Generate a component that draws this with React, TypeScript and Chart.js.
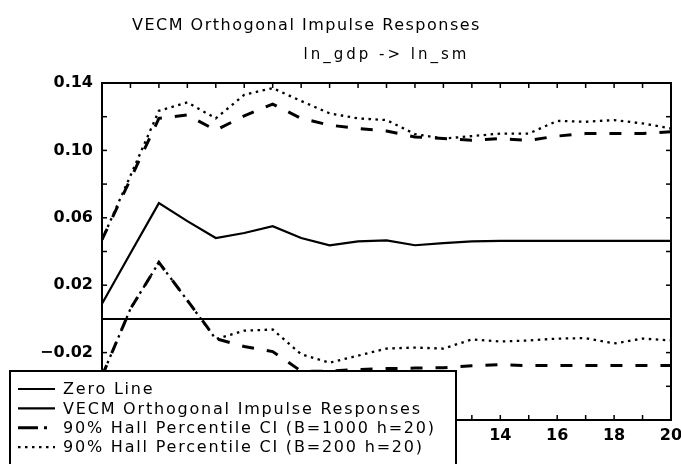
import React, { useEffect, useRef } from 'react';
import { Chart, registerables } from 'chart.js';

Chart.register(...registerables);

const horizons = ['0', '1', '2', '3', '4', '5', '6', '7', '8', '9', '10', '11', '12', '13', '14', '15', '16', '17', '18', '19', '20'];
const xTickLabels = ['0', '', '2', '', '4', '', '6', '', '8', '', '10', '', '12', '', '14', '', '16', '', '18', '', '20'];

const zeroLine = [0, 0, 0, 0, 0, 0, 0, 0, 0, 0, 0, 0, 0, 0, 0, 0, 0, 0, 0, 0, 0];
const irf = [0.009, 0.039, 0.0687, 0.058, 0.048, 0.051, 0.055, 0.048, 0.0437, 0.046, 0.0466, 0.0437, 0.045, 0.046, 0.0463, 0.0463, 0.0463, 0.0463, 0.0463, 0.0463, 0.0463];
const upperB1000 = [0.047, 0.083, 0.119, 0.121, 0.112, 0.1205, 0.1275, 0.119, 0.115, 0.113, 0.1115, 0.108, 0.107, 0.106, 0.107, 0.106, 0.1085, 0.11, 0.11, 0.11, 0.111];
const lowerB1000 = [-0.034, 0.006, 0.0335, 0.011, -0.0117, -0.0164, -0.0194, -0.031, -0.031, -0.03, -0.0295, -0.0292, -0.029, -0.0278, -0.0272, -0.0277, -0.0277, -0.0277, -0.0277, -0.0277, -0.0277];
const upperB200 = [0.047, 0.085, 0.1235, 0.1285, 0.119, 0.133, 0.137, 0.1293, 0.122, 0.119, 0.118, 0.1097, 0.107, 0.1085, 0.11, 0.11, 0.1175, 0.117, 0.118, 0.116, 0.113];
const lowerB200 = [-0.034, 0.006, 0.0335, 0.011, -0.012, -0.007, -0.0063, -0.021, -0.026, -0.0218, -0.0176, -0.017, -0.0176, -0.0122, -0.0134, -0.0128, -0.0117, -0.0114, -0.0146, -0.0117, -0.0128];

const yTickValues = [-0.06, -0.04, -0.02, 0, 0.02, 0.04, 0.06, 0.08, 0.1, 0.12, 0.14];
const yTickLabels = ['\u22120.06', '', '\u22120.02', '', '0.02', '', '0.06', '', '0.10', '', '0.14'];

const titleText = 'VECM Orthogonal Impulse Responses';
const subtitleText = 'ln_gdp -> ln_sm';
const labelZero = 'Zero Line';
const labelIrf = 'VECM Orthogonal Impulse Responses';
const label1000 = '90% Hall Percentile CI (B=1000 h=20)';
const label200 = '90% Hall Percentile CI (B=200 h=20)';

const FONT = '"DejaVu Sans", sans-serif';

const framePlugin = {
  id: 'frameAndLegend',
  afterDraw(chart: any) {
    const { ctx, chartArea: a, scales } = chart;
    ctx.save();
    ctx.strokeStyle = '#000';
    ctx.setLineDash([]);
    // frame
    ctx.lineWidth = 2;
    ctx.strokeRect(a.left, a.top, a.right - a.left, a.bottom - a.top);
    // inward ticks
    ctx.lineWidth = 1.5;
    const tl = 5;
    const seg = (x1: number, y1: number, x2: number, y2: number) => {
      ctx.beginPath();
      ctx.moveTo(x1, y1);
      ctx.lineTo(x2, y2);
      ctx.stroke();
    };
    horizons.forEach((_, i) => {
      const x = scales.x.getPixelForValue(i);
      seg(x, a.top, x, a.top + tl);
      seg(x, a.bottom, x, a.bottom - tl);
    });
    yTickValues.forEach((v) => {
      const y = scales.y.getPixelForValue(v);
      seg(a.left, y, a.left + tl, y);
      seg(a.right, y, a.right - tl, y);
    });
    // titles
    ctx.fillStyle = '#000';
    ctx.textBaseline = 'alphabetic';
    ctx.font = `16px ${FONT}`;
    (ctx as any).letterSpacing = '1.5px';
    ctx.textAlign = 'left';
    ctx.fillText(titleText, 132, 30);
    ctx.font = `15px ${FONT}`;
    (ctx as any).letterSpacing = '3px';
    ctx.textAlign = 'center';
    ctx.fillText(subtitleText, (a.left + a.right) / 2, 59);

    // legend box
    const bx = 10, by = 371, bw = 446, bh = chart.height - by + 10;
    ctx.fillStyle = '#fff';
    ctx.fillRect(bx, by, bw, bh);
    ctx.lineWidth = 2;
    ctx.strokeRect(bx, by, bw, bh);

    const seen: string[] = [];
    const entries: any[] = [];
    chart.data.datasets.forEach((ds: any) => {
      if (!seen.includes(ds.label)) {
        seen.push(ds.label);
        entries.push(ds);
      }
    });
    ctx.font = `16px ${FONT}`;
    (ctx as any).letterSpacing = '1.8px';
    ctx.textAlign = 'left';
    ctx.textBaseline = 'middle';
    entries.forEach((ds, i) => {
      const y = 389 + i * 19.4;
      ctx.strokeStyle = '#000';
      ctx.lineWidth = ds.borderWidth;
      ctx.setLineDash(ds.legendDash || ds.borderDash || []);
      ctx.beginPath();
      ctx.moveTo(18, y);
      ctx.lineTo(55, y);
      ctx.stroke();
      ctx.setLineDash([]);
      ctx.fillStyle = '#000';
      ctx.fillText(ds.label, 63, y + 1);
    });
    ctx.restore();
  },
};

export default function App() {
  const ref = useRef<HTMLCanvasElement | null>(null);

  useEffect(() => {
    if (!ref.current) return;
    const common = { pointRadius: 0, fill: false, tension: 0, borderColor: '#000', borderCapStyle: 'butt' };
    const chart = new Chart(ref.current, {
      type: 'line',
      data: {
        labels: horizons,
        datasets: [
          { ...common, label: labelZero, data: zeroLine, borderWidth: 2 },
          { ...common, label: labelIrf, data: irf, borderWidth: 2.2 },
          { ...common, label: label1000, data: upperB1000, borderWidth: 3, borderDash: [12, 13], legendDash: [20, 6, 3, 60] },
          { ...common, label: label1000, data: lowerB1000, borderWidth: 3, borderDash: [12, 13], legendDash: [20, 6, 3, 60] },
          { ...common, label: label200, data: upperB200, borderWidth: 2.3, borderDash: [2.5, 4.5] },
          { ...common, label: label200, data: lowerB200, borderWidth: 2.3, borderDash: [2.5, 4.5] },
        ] as any,
      },
      options: {
        animation: false,
        responsive: false,
        maintainAspectRatio: false,
        layout: { padding: { left: 0, top: 83, right: 10, bottom: 0 } },
        plugins: { legend: { display: false }, title: { display: false }, tooltip: { enabled: false } },
        scales: {
          x: {
            type: 'category',
            offset: false,
            grid: { display: false, drawTicks: false },
            border: { display: false },
            ticks: {
              autoSkip: false,
              maxRotation: 0,
              padding: 6,
              color: '#000',
              font: { family: FONT, size: 16, weight: 'bold' },
              callback: (_v: any, i: number) => xTickLabels[i],
            },
            afterFit: (s: any) => {
              s.height = 44;
              s.paddingLeft = 0;
              s.paddingRight = 0;
            },
          },
          y: {
            type: 'linear',
            min: -0.06,
            max: 0.14,
            grid: { display: false, drawTicks: false },
            border: { display: false },
            afterBuildTicks: (s: any) => {
              s.ticks = yTickValues.map((v) => ({ value: v }));
            },
            ticks: {
              padding: 9,
              color: '#000',
              font: { family: FONT, size: 16, weight: 'bold' },
              callback: (_v: any, i: number) => yTickLabels[i],
            },
            afterFit: (s: any) => {
              s.width = 102;
              s.paddingTop = 0;
              s.paddingBottom = 0;
            },
          },
        },
      } as any,
      plugins: [framePlugin],
    });
    return () => chart.destroy();
  }, []);

  return (
    <div style={{ position: 'fixed', left: 0, top: 0, width: 681, height: 464, background: '#fff' }}>
      <canvas ref={ref} width={681} height={464} style={{ width: 681, height: 464, display: 'block' }} />
    </div>
  );
}
